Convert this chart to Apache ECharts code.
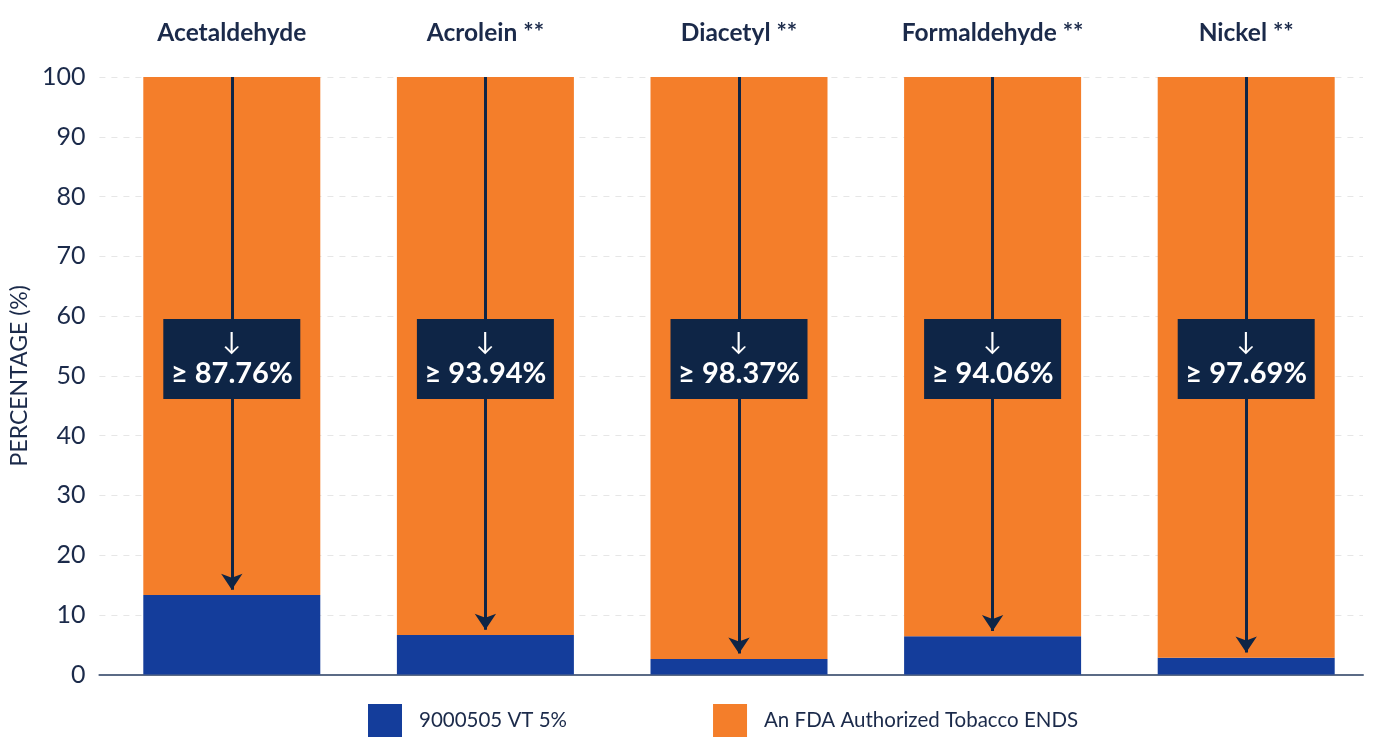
<!DOCTYPE html>
<html>
<head>
<meta charset="utf-8">
<script src="https://cdn.jsdelivr.net/npm/echarts@6/dist/echarts.min.js"></script>
<style>
  html, body { margin: 0; padding: 0; background: #ffffff; }
  #chart { width: 1379px; height: 746px; }
</style>
</head>
<body>
<div id="chart"></div>
<script>
const categories = ['Acetaldehyde', 'Acrolein **', 'Diacetyl **', 'Formaldehyde **', 'Nickel **'];
// blue part, orange fills up to 100
const vtValues = [13.3, 6.6, 2.6, 6.4, 2.8];
const endsValues = [86.7, 93.4, 97.4, 93.6, 97.2];
const reductionLabels = ['≥ 87.76%', '≥ 93.94%', '≥ 98.37%', '≥ 94.06%', '≥ 97.69%'];
const yTicks = [0, 10, 20, 30, 40, 50, 60, 70, 80, 90, 100];
const boxLevel = 52.8;

const navy = '#0e2546';
const textColor = '#1b2a4a';
const font = 'Lato, "Open Sans", sans-serif';

const chart = echarts.init(document.getElementById('chart'));

chart.setOption({
  backgroundColor: '#ffffff',
  textStyle: { fontFamily: font },
  grid: [
    { left: 88, right: 16, top: 77, bottom: 71.5 },
    { left: 105, right: 6, top: 77, bottom: 71.5 }
  ],
  legend: {
    left: 368,
    top: 704,
    padding: 0,
    itemWidth: 34,
    itemHeight: 33,
    itemGap: 146,
    icon: 'rect',
    textStyle: { fontSize: 20.5, color: textColor, fontFamily: font, padding: [0, 0, 0, 12] },
    data: ['9000505 VT 5%', 'An FDA Authorized Tobacco ENDS']
  },
  xAxis: [
    {
      type: 'category',
      gridIndex: 0,
      data: categories,
      axisLine: { show: true, lineStyle: { color: '#5b6b86', width: 2 } },
      axisTick: { show: false },
      axisLabel: { show: false }
    },
    {
      type: 'category',
      gridIndex: 1,
      position: 'top',
      data: categories,
      axisLine: { show: false },
      axisTick: { show: false },
      axisLabel: {
        margin: 31,
        fontSize: 24.5,
        fontWeight: 'bold',
        color: textColor,
        fontFamily: font
      }
    }
  ],
  yAxis: [
    {
      type: 'value',
      gridIndex: 0,
      min: 0,
      max: 100,
      interval: 10,
      name: 'PERCENTAGE (%)',
      nameLocation: 'middle',
      nameGap: 54,
      nameTextStyle: { fontSize: 23, color: textColor, fontFamily: font },
      axisLine: { show: false },
      axisTick: { show: false },
      axisLabel: {
        margin: 14,
        fontSize: 25,
        color: textColor,
        fontFamily: font,
        customValues: yTicks
      },
      splitLine: { show: true, lineStyle: { color: '#e6e6e6', type: [6, 6], width: 1 } }
    },
    {
      type: 'value',
      gridIndex: 1,
      min: 0,
      max: 100,
      interval: 10,
      show: false,
      splitLine: { show: false }
    }
  ],
  series: [
    {
      name: '9000505 VT 5%',
      type: 'bar',
      xAxisIndex: 1,
      yAxisIndex: 1,
      stack: 'total',
      barWidth: 177,
      data: vtValues,
      itemStyle: { color: '#143d9b' }
    },
    {
      name: 'An FDA Authorized Tobacco ENDS',
      type: 'bar',
      xAxisIndex: 1,
      yAxisIndex: 1,
      stack: 'total',
      barWidth: 177,
      data: endsValues,
      itemStyle: { color: '#f47e2a' },
      markLine: {
        silent: true,
        symbol: ['none', 'arrow'],
        symbolSize: [16, 16],
        label: { show: false },
        lineStyle: { color: navy, width: 3, type: 'solid' },
        data: categories.map((c, i) => [
          { coord: [c, 100] },
          { coord: [c, vtValues[i] + 0.9] }
        ])
      }
    },
    {
      name: 'reduction',
      type: 'scatter',
      xAxisIndex: 1,
      yAxisIndex: 1,
      z: 10,
      symbolSize: 1,
      itemStyle: { color: navy, opacity: 1 },
      data: categories.map((c) => [c, boxLevel]),
      label: {
        show: true,
        position: 'inside',
        backgroundColor: navy,
        opacity: 1,
        width: 137,
        height: 64,
        padding: [8, 0, 8, 0],
        align: 'center',
        verticalAlign: 'middle',
        formatter: (p) => '{a|↓}\n{b|' + reductionLabels[p.dataIndex] + '}',
        rich: {
          a: { color: '#ffffff', fontSize: 25, lineHeight: 30, align: 'center', fontFamily: font },
          b: { color: '#ffffff', fontSize: 29, lineHeight: 34, fontWeight: 'bold', align: 'center', fontFamily: font }
        }
      },
      emphasis: { disabled: true },
      tooltip: { show: false }
    }
  ]
});
</script>
</body>
</html>
